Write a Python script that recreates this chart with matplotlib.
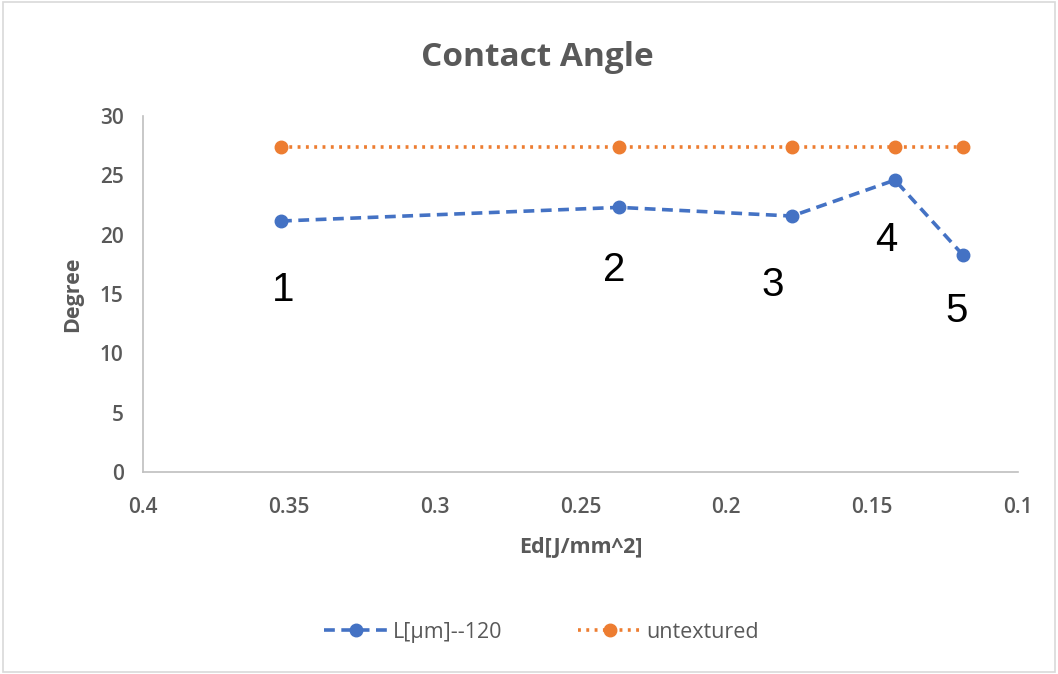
import matplotlib
matplotlib.use('Agg')
import matplotlib.pyplot as plt
from matplotlib.patches import Rectangle

# data
ed = [0.3527, 0.2368, 0.1775, 0.1422, 0.1189]
angle_textured = [21.15, 22.3, 21.57, 24.6, 18.29]
angle_untextured = [27.4, 27.4, 27.4, 27.4, 27.4]
point_labels = ['1', '2', '3', '4', '5']
label_x = [0.352, 0.2385, 0.184, 0.1453, 0.1209]
label_y = [15.3, 17.0, 15.76, 19.55, 13.57]

plt.rcParams['font.family'] = ['Open Sans', 'DejaVu Sans']
grey = '#595959'
blue = '#4472C4'
orange = '#ED7D31'

fig = plt.figure(figsize=(10.58, 6.74), dpi=100)
fig.patches.append(Rectangle((0.003, 0.003), 0.994, 0.994, transform=fig.transFigure,
                             fill=False, edgecolor='#D9D9D9', linewidth=1.2))
ax = fig.add_axes([0.1352, 0.2997, 0.827, 0.5282])

ax.plot(ed, angle_textured, linestyle=(0, (3, 1.8)), color=blue, linewidth=2.6,
        marker='o', markersize=9, label='L[\u03bcm]--120')
ax.plot(ed, angle_untextured, linestyle=(0, (0.8, 1.5)), color=orange, linewidth=2.6,
        marker='o', markersize=9, label='untextured')

for t, x, y in zip(point_labels, label_x, label_y):
    ax.text(x, y, t, ha='center', va='center', fontsize=29,
            family='Liberation Sans', color='black')

ax.set_xlim(0.4, 0.1)
ax.set_ylim(0, 30)
ax.set_xticks([0.4, 0.35, 0.3, 0.25, 0.2, 0.15, 0.1])
ax.set_xticklabels(['0.4', '0.35', '0.3', '0.25', '0.2', '0.15', '0.1'])
ax.set_yticks(range(0, 31, 5))

for s in ['top', 'right']:
    ax.spines[s].set_visible(False)
for s in ['left', 'bottom']:
    ax.spines[s].set_color('#BFBFBF')
    ax.spines[s].set_linewidth(1.2)
ax.tick_params(axis='x', length=0, labelsize=15, labelcolor=grey, pad=18)
ax.tick_params(axis='y', length=0, labelsize=15, labelcolor=grey, pad=14)
for lbl in ax.get_xticklabels() + ax.get_yticklabels():
    lbl.set_fontweight('semibold')

ax.set_xlabel('Ed[J/mm^2]', fontsize=15.5, color=grey, fontweight='bold', labelpad=14)
ax.set_ylabel('Degree', fontsize=15.5, color=grey, fontweight='bold', labelpad=12)
fig.text(0.508, 0.915, 'Contact Angle', ha='center', va='center', fontsize=24,
         color=grey, fontweight='bold')

fig.legend(loc='center', bbox_to_anchor=(0.512, 0.062), ncol=2, frameon=False,
           fontsize=15.5, labelcolor=grey, handlelength=3.0, columnspacing=3.5,
           handletextpad=0.2)

fig.savefig('out.png', dpi=100)
